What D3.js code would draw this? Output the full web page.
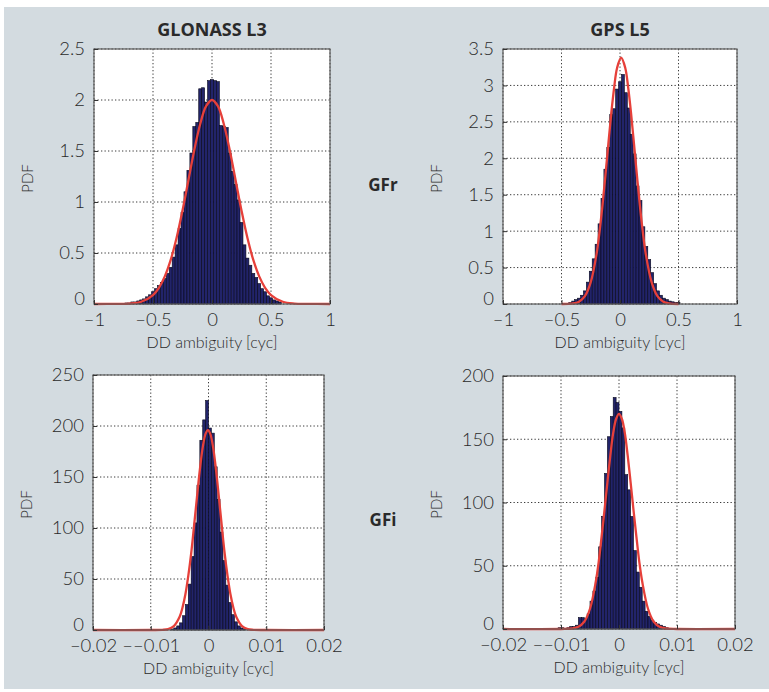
<!DOCTYPE html>
<html>
<head>
<meta charset="utf-8">
<script src="https://cdn.jsdelivr.net/npm/d3@7"></script>
<style>
  body { margin: 0; background: #fff; }
  svg text { font-family: Lato, "Open Sans", sans-serif; fill: #2a2a2a; }
</style>
</head>
<body>
<svg id="chart" width="769" height="692"></svg>
<script>
// histogram heights (PDF), bins of equal width
const glonassGfrFirstBin = -0.725, glonassGfrBinWidth = 0.025;
const glonassGfrPdf = [0.01, 0.01, 0.02, 0.02, 0.03, 0.04, 0.05, 0.07, 0.09, 0.12, 0.15, 0.18, 0.21, 0.25, 0.30, 0.36, 0.46, 0.58, 0.74, 0.90,
  1.10, 1.31, 1.48, 1.74, 1.78, 2.11, 2.12, 1.98, 2.19, 2.20, 2.19, 2.18,
  1.75, 1.74, 1.73, 1.48, 1.30, 1.17, 1.02, 0.80, 0.58, 0.45, 0.38, 0.30, 0.26, 0.20, 0.15, 0.12, 0.08, 0.06, 0.04, 0.03, 0.02];

const gpsGfrFirstBin = -0.425, gpsGfrBinWidth = 0.025;
const gpsGfrPdf = [0.02, 0.04, 0.06, 0.08, 0.12, 0.18, 0.30, 0.45, 0.62, 0.82,
  1.10, 1.45, 1.85, 2.15, 2.60, 2.68, 2.95,
  3.05, 3.15, 2.90, 2.69, 2.33, 2.06, 1.62, 1.42, 1.06, 0.79, 0.61, 0.43,
  0.28, 0.18, 0.12, 0.08, 0.06, 0.04, 0.03, 0.02, 0.02];

const glonassGfiFirstBin = -0.00625, glonassGfiBinWidth = 0.0005;
const glonassGfiPdf = [1, 2, 4, 7, 14, 25, 45, 72, 105, 142, 186, 206, 225,
  198, 193, 160, 128, 96, 68, 44, 27, 15, 8, 4, 2, 1];

const gpsGfiFirstBin = -0.01025, gpsGfiBinWidth = 0.0005;
const gpsGfiPdf = [1, 1, 0.5, 1, 2, 2, 3, 9, 9, 8, 12, 22, 30, 41, 65, 89, 123, 152, 168, 183, 179,
  172, 159, 122, 110, 89, 62, 45, 33, 22, 14, 10, 7, 5, 4, 3, 2, 1];

// fitted normal curves
const glonassGfrFitX = [-1, -0.8, -0.7, -0.6, -0.5, -0.45, -0.4, -0.35, -0.3, -0.25, -0.2, -0.15, -0.1, -0.05, 0, 0.05, 0.1, 0.15, 0.2, 0.25, 0.3, 0.35, 0.4, 0.45, 0.5, 0.6, 0.7, 0.8, 1];
const glonassGfrFitY = [0, 0.001, 0.004, 0.022, 0.088, 0.159, 0.271, 0.432, 0.649, 0.916, 1.213, 1.51, 1.765, 1.94, 2.0, 1.94, 1.765, 1.51, 1.213, 0.916, 0.649, 0.432, 0.271, 0.159, 0.088, 0.022, 0.004, 0.001, 0];

const gpsGfrFitX = [-0.5, -0.4, -0.35, -0.3, -0.25, -0.2, -0.175, -0.15, -0.125, -0.1, -0.075, -0.05, -0.025, 0.01, 0.045, 0.07, 0.095, 0.12, 0.145, 0.17, 0.195, 0.22, 0.27, 0.32, 0.37, 0.42, 0.5];
const gpsGfrFitY = [0, 0.008, 0.032, 0.107, 0.30, 0.69, 0.99, 1.35, 1.76, 2.19, 2.61, 2.97, 3.24, 3.38, 3.24, 2.97, 2.61, 2.19, 1.76, 1.35, 0.99, 0.69, 0.30, 0.107, 0.032, 0.008, 0];

const glonassGfiFitX = [-0.02, -0.01, -0.008, -0.007, -0.006, -0.005, -0.0045, -0.004, -0.0035, -0.003, -0.0025, -0.002, -0.0015, -0.001, -0.0005, -0.0001, 0.0003, 0.0008, 0.0013, 0.0018, 0.0023, 0.0028, 0.0033, 0.0038, 0.0043, 0.0048, 0.0058, 0.0068, 0.0078, 0.01, 0.02];
const glonassGfiFitY = [0, 0, 0.16, 0.88, 3.8, 12.9, 22, 35, 53, 75, 102, 130, 157, 179, 192.5, 196, 192.5, 179, 157, 130, 102, 75, 53, 35, 22, 12.9, 3.8, 0.88, 0.16, 0, 0];

const gpsGfiFitX = [-0.02, -0.01, -0.008, -0.007, -0.006, -0.005, -0.004, -0.0035, -0.003, -0.0025, -0.002, -0.0015, -0.001, -0.0005, 0, 0.0005, 0.001, 0.0015, 0.002, 0.0025, 0.003, 0.0035, 0.004, 0.005, 0.006, 0.007, 0.008, 0.01, 0.02];
const gpsGfiFitY = [0, 0, 0.4, 1.7, 5.7, 16, 37.5, 53, 73, 94, 116, 137, 155, 166, 170, 166, 155, 137, 116, 94, 73, 53, 37.5, 16, 5.7, 1.7, 0.4, 0, 0];

// tick values and labels
const gfrXTicks = [-1, -0.5, 0, 0.5, 1];
const gfrXLabels = ["\u20131", "\u20130.5", "0", "0.5", "1"];
const gfiXTicks = [-0.02, -0.01, 0, 0.01, 0.02];
const gfiXLabels = ["\u20130.02", "\u2013\u20130.01", "0", "0.01", "0.02"];
const glonassGfrYTicks = [0, 0.5, 1, 1.5, 2, 2.5];
const gpsGfrYTicks = [0, 0.5, 1, 1.5, 2, 2.5, 3, 3.5];
const glonassGfiYTicks = [0, 50, 100, 150, 200, 250];
const gpsGfiYTicks = [0, 50, 100, 150, 200];

const columnTitles = ["GLONASS L3", "GPS L5"];
const rowLabels = ["GFr", "GFi"];

//----------------------------------------------------------------------

const svg = d3.select("#chart");

// grey backdrop of the figure
svg.append("rect")
  .attr("x", 4).attr("y", 7)
  .attr("width", 765).attr("height", 682)
  .attr("fill", "#d3dbe0");

function toBins(first, w, pdf) {
  return pdf.map((v, i) => ({ c: first + i * w, w: w, v: v }));
}
function toPoints(xs, ys) {
  return xs.map((x, i) => ({ x: x, y: ys[i] }));
}

const panels = [
  { box: [94, 330, 49, 304], xd: [-1, 1], yd: [0, 2.5], xt: gfrXTicks, xl: gfrXLabels, yt: glonassGfrYTicks,
    bins: toBins(glonassGfrFirstBin, glonassGfrBinWidth, glonassGfrPdf), fit: toPoints(glonassGfrFitX, glonassGfrFitY) },
  { box: [503, 737, 49, 304], xd: [-1, 1], yd: [0, 3.5], xt: gfrXTicks, xl: gfrXLabels, yt: gpsGfrYTicks,
    bins: toBins(gpsGfrFirstBin, gpsGfrBinWidth, gpsGfrPdf), fit: toPoints(gpsGfrFitX, gpsGfrFitY) },
  { box: [93, 324, 375, 630], xd: [-0.02, 0.02], yd: [0, 250], xt: gfiXTicks, xl: gfiXLabels, yt: glonassGfiYTicks,
    bins: toBins(glonassGfiFirstBin, glonassGfiBinWidth, glonassGfiPdf), fit: toPoints(glonassGfiFitX, glonassGfiFitY) },
  { box: [503, 735, 376, 629], xd: [-0.02, 0.02], yd: [0, 200], xt: gfiXTicks, xl: gfiXLabels, yt: gpsGfiYTicks,
    bins: toBins(gpsGfiFirstBin, gpsGfiBinWidth, gpsGfiPdf), fit: toPoints(gpsGfiFitX, gpsGfiFitY) }
];

panels.forEach(function (p) {
  const [x0, x1, y0, y1] = p.box;
  const x = d3.scaleLinear().domain(p.xd).range([x0, x1]);
  const y = d3.scaleLinear().domain(p.yd).range([y1, y0]);
  const g = svg.append("g");

  // white plotting area
  g.append("rect").attr("x", x0).attr("y", y0).attr("width", x1 - x0).attr("height", y1 - y0).attr("fill", "#fff");

  // dotted grid under the data
  g.selectAll(".gx").data(p.xt).enter().append("line")
    .attr("x1", d => x(d)).attr("x2", d => x(d)).attr("y1", y0).attr("y2", y1)
    .attr("stroke", "#3a3a3a").attr("stroke-width", 1).attr("stroke-dasharray", "1.3,2.2");
  g.selectAll(".gy").data(p.yt).enter().append("line")
    .attr("x1", x0).attr("x2", x1).attr("y1", d => y(d)).attr("y2", d => y(d))
    .attr("stroke", "#3a3a3a").attr("stroke-width", 1).attr("stroke-dasharray", "1.3,2.2");

  // histogram bars
  g.selectAll(".bar").data(p.bins).enter().append("rect")
    .attr("x", d => x(d.c - d.w / 2))
    .attr("width", d => x(d.c + d.w / 2) - x(d.c - d.w / 2))
    .attr("y", d => y(d.v))
    .attr("height", d => y(0) - y(d.v))
    .attr("fill", "#22246a").attr("stroke", "#07071a").attr("stroke-width", 0.6);

  // fitted normal
  const line = d3.line().x(d => x(d.x)).y(d => y(d.y)).curve(d3.curveCatmullRom);
  g.append("path").datum(p.fit).attr("d", line)
    .attr("fill", "none").attr("stroke", "#e6403a").attr("stroke-width", 2.3);

  // box
  g.append("rect").attr("x", x0).attr("y", y0).attr("width", x1 - x0).attr("height", y1 - y0)
    .attr("fill", "none").attr("stroke", "#5c5c5c").attr("stroke-width", 1.2);

  // axes, ticks pointing inward
  const xa = g.append("g").attr("transform", `translate(0,${y1})`)
    .call(d3.axisBottom(x).tickValues(p.xt).tickFormat((d, i) => p.xl[i]).tickSize(-4).tickPadding(9));
  const ya = g.append("g").attr("transform", `translate(${x0},0)`)
    .call(d3.axisLeft(y).tickValues(p.yt).tickFormat(d => String(d)).tickSize(-4).tickPadding(9));
  [xa, ya].forEach(a => {
    a.select(".domain").remove();
    a.selectAll("line").attr("stroke", "#333");
    a.selectAll("text").style("font-size", "18.5px").style("font-weight", 300)
      .style("font-family", "Lato, 'Open Sans', sans-serif").attr("fill", "#2a2a2a");
  });
  // the bottom "0" sits a little above the x-axis labels
  ya.selectAll(".tick").filter(d => d === 0).select("text").attr("y", -5);

  // axis titles
  g.append("text").attr("x", (x0 + x1) / 2).attr("y", y1 + 44)
    .attr("text-anchor", "middle").style("font-size", "16px").style("font-weight", 300)
    .text("DD ambiguity [cyc]");
  g.append("text").attr("transform", `translate(${x0 - 61},${(y0 + y1) / 2 + 2}) rotate(-90)`)
    .attr("text-anchor", "middle").style("font-size", "15px").style("font-weight", 300)
    .text("PDF");
});

// column titles and row labels
svg.selectAll(".coltitle").data(columnTitles).enter().append("text")
  .attr("x", (d, i) => [212, 620][i]).attr("y", 36)
  .attr("text-anchor", "middle").style("font-size", "18px").style("font-weight", 700)
  .style("font-family", "'Open Sans', sans-serif").attr("fill", "#1e1e1e")
  .text(d => d);
svg.selectAll(".rowlabel").data(rowLabels).enter().append("text")
  .attr("x", 383).attr("y", (d, i) => [191, 526][i])
  .attr("text-anchor", "middle").style("font-size", "17px").style("font-weight", 700)
  .style("font-family", "'Open Sans', sans-serif").attr("fill", "#1e1e1e")
  .text(d => d);
</script>
</body>
</html>
